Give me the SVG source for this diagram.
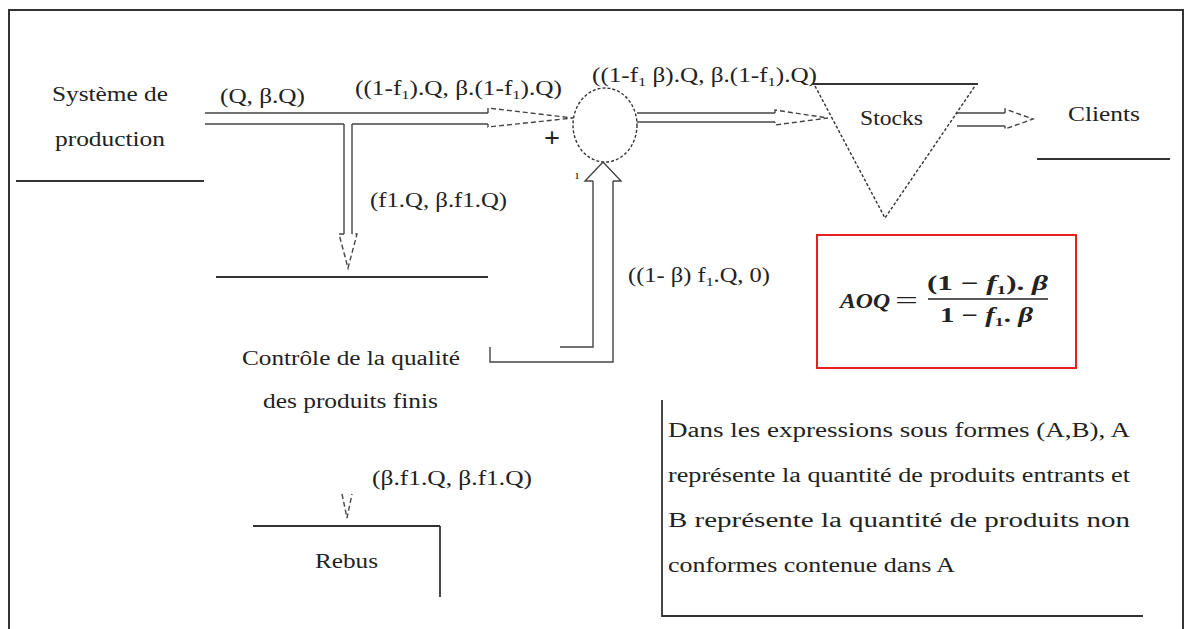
<svg xmlns="http://www.w3.org/2000/svg" width="1188" height="629" viewBox="0 0 1188 629" font-family="'Liberation Serif', 'Times New Roman', Tinos, 'DejaVu Serif', serif">
<style>
text{font-size:20px;fill:#222}
.ln{fill:none;stroke:#333;stroke-width:1.8}
.thin{fill:none;stroke:#444;stroke-width:1.4}
.head{fill:#fff;stroke:#444;stroke-width:1.4;stroke-dasharray:5 3}
.dot{fill:none;stroke:#333;stroke-width:1.4;stroke-dasharray:3 2}
.sub{font-size:13px}
.math{font-weight:bold;font-size:21px}
</style>
<rect x="9" y="10" width="1174" height="640" fill="#fff" stroke="#333" stroke-width="2"/>

<g id="production">
<text x="52" y="101" textLength="116" lengthAdjust="spacingAndGlyphs">Système de</text>
<text x="55" y="146" textLength="110" lengthAdjust="spacingAndGlyphs">production</text>
<line class="ln" x1="16" y1="181" x2="204" y2="181"/>
</g>

<g id="controle">
<line class="ln" x1="216" y1="277" x2="488" y2="277"/>
<text x="242" y="365" textLength="218" lengthAdjust="spacingAndGlyphs">Contrôle de la qualité</text>
<text x="263" y="408" textLength="175" lengthAdjust="spacingAndGlyphs">des produits finis</text>
</g>

<g id="somme">
<ellipse class="dot" cx="605" cy="125" rx="32" ry="37"/>
<text x="552" y="147" text-anchor="middle" style="font-size:28px;font-weight:bold">+</text>
<text x="577" y="179" text-anchor="middle" style="font-size:13px">ı</text>
</g>

<g id="stocks">
<line class="ln" x1="813" y1="84" x2="978" y2="84"/>
<path class="dot" d="M815,86 L885,218 L975,86"/>
<text x="860" y="125" textLength="63" lengthAdjust="spacingAndGlyphs">Stocks</text>
</g>

<g id="clients">
<text x="1068" y="121" textLength="72" lengthAdjust="spacingAndGlyphs">Clients</text>
<line class="ln" x1="1037" y1="159" x2="1170" y2="159"/>
</g>

<g id="rebus">
<line class="ln" x1="253" y1="526" x2="440" y2="526"/>
<line class="ln" x1="440" y1="526" x2="440" y2="597"/>
<text x="315" y="568" textLength="63" lengthAdjust="spacingAndGlyphs">Rebus</text>
</g>

<g id="aoq">
<rect x="817" y="235" width="259" height="133" fill="none" stroke="#e82020" stroke-width="2"/>
<text class="math" x="840" y="308" font-style="italic" textLength="50" lengthAdjust="spacingAndGlyphs">AOQ</text>
<text x="895" y="308" style="font-size:24px" textLength="23" lengthAdjust="spacingAndGlyphs">=</text>
<text class="math" x="927" y="290" textLength="121" lengthAdjust="spacingAndGlyphs">(1 − <tspan font-style="italic">f</tspan><tspan class="sub" dy="4">1</tspan><tspan dy="-4">). </tspan><tspan font-style="italic">β</tspan></text>
<line x1="928" y1="299" x2="1048" y2="299" stroke="#222" stroke-width="1.6"/>
<text class="math" x="940" y="322" textLength="93" lengthAdjust="spacingAndGlyphs">1 − <tspan font-style="italic">f</tspan><tspan class="sub" dy="4">1</tspan><tspan dy="-4">. </tspan><tspan font-style="italic">β</tspan></text>
</g>

<g id="note">
<path class="ln" d="M662,400 L662,616 L1143,616"/>
<text x="668" y="437" textLength="462" lengthAdjust="spacingAndGlyphs">Dans les expressions sous formes (A,B), A</text>
<text x="668" y="482" textLength="462" lengthAdjust="spacingAndGlyphs">représente la quantité de produits entrants et</text>
<text x="668" y="527" textLength="462" lengthAdjust="spacingAndGlyphs">B représente la quantité de produits non</text>
<text x="668" y="572" textLength="287" lengthAdjust="spacingAndGlyphs">conformes contenue dans A</text>
</g>

<g id="connectors">
<line class="thin" x1="205" y1="113" x2="488" y2="113"/>
<line class="thin" x1="205" y1="124" x2="344" y2="124"/>
<line class="thin" x1="352" y1="124" x2="488" y2="124"/>
<path class="head" d="M488,113 L488,108 L573,118 L488,127 L488,124"/>
<line class="thin" x1="344" y1="124" x2="344" y2="234"/>
<line class="thin" x1="352" y1="124" x2="352" y2="234"/>
<path class="head" d="M344,234 L339,234 L348,268 L357,234 L352,234"/>
<path class="thin" d="M490,347 L490,362 L613,362 L613,181"/>
<path class="thin" d="M560,347 L593,347 L593,181"/>
<path class="thin" d="M593,181 L585,181 L603,162 L621,181 L613,181"/>
<line class="thin" x1="637" y1="113" x2="775" y2="113"/>
<line class="thin" x1="637" y1="122" x2="775" y2="122"/>
<path class="head" d="M775,113 L775,110 L828,118 L775,125 L775,122"/>
<line class="thin" x1="957" y1="113" x2="1005" y2="113"/>
<line class="thin" x1="957" y1="126" x2="1005" y2="126"/>
<path class="head" d="M1005,113 L1005,109 L1033,119 L1005,129 L1005,126"/>
<path class="head" d="M342,494 L347,518 L352,494"/>
<text x="220" y="103" textLength="85" lengthAdjust="spacingAndGlyphs">(Q, β.Q)</text>
<text x="355" y="95" textLength="207" lengthAdjust="spacingAndGlyphs">((1-f<tspan class="sub" dy="4">1</tspan><tspan dy="-4">).Q, β.(1-f</tspan><tspan class="sub" dy="4">1</tspan><tspan dy="-4">).Q)</tspan></text>
<text x="592" y="82" textLength="225" lengthAdjust="spacingAndGlyphs">((1-f<tspan class="sub" dy="4">1</tspan><tspan dy="-4"> β).Q, β.(1-f</tspan><tspan class="sub" dy="4">1</tspan><tspan dy="-4">).Q)</tspan></text>
<text x="370" y="207" textLength="137" lengthAdjust="spacingAndGlyphs">(f1.Q, β.f1.Q)</text>
<text x="628" y="282" textLength="142" lengthAdjust="spacingAndGlyphs">((1- β) f<tspan class="sub" dy="4">1</tspan><tspan dy="-4">.Q, 0)</tspan></text>
<text x="372" y="485" textLength="160" lengthAdjust="spacingAndGlyphs">(β.f1.Q, β.f1.Q)</text>
</g>
</svg>
